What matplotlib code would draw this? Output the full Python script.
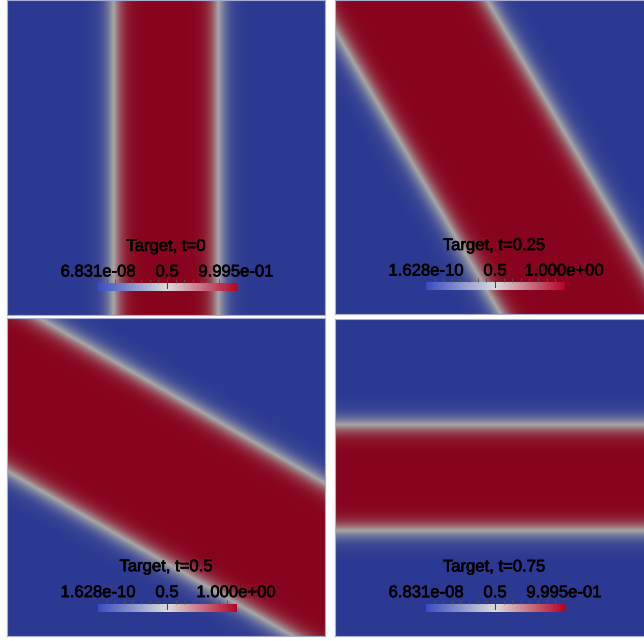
import numpy as np
import matplotlib.pyplot as plt
import matplotlib.patheffects as pe
from matplotlib.colors import LinearSegmentedColormap

plt.rcParams['font.family'] = ['Liberation Sans', 'DejaVu Sans']

# Snapshots of the rotating target band
times = ["0", "0.25", "0.5", "0.75"]
normal_deg = [0, 30, 60, 90]          # direction of the band normal
half_width = [0.165, 0.232, 0.234, 0.167]
edge_eps = [0.036, 0.036, 0.036, 0.036]
range_lo = [6.831e-08, 1.628e-10, 1.628e-10, 6.831e-08]
range_hi = [0.9995, 1.0, 1.0, 0.9995]
lo_labels = ["6.831e-08", "1.628e-10", "1.628e-10", "6.831e-08"]
hi_labels = ["9.995e-01", "1.000e+00", "1.000e+00", "9.995e-01"]

# viewport boxes in pixels: left, top, width, height
W, H = 644, 641
boxes = [(7, 0, 318, 315), (335, 0, 318, 314),
         (7, 318, 318, 318), (335, 319, 318, 317)]

cool_warm = [(0.231, 0.299, 0.754), (0.865, 0.865, 0.865), (0.706, 0.016, 0.150)]
base = LinearSegmentedColormap.from_list("cool_warm", cool_warm)
shade = 0.76  # surface lighting darkens the rendered field
lit = LinearSegmentedColormap.from_list(
    "cool_warm_lit", [tuple(c * shade for c in rgb) for rgb in cool_warm])

heavy = [pe.withStroke(linewidth=0.5, foreground='black')]

fig = plt.figure(figsize=(W / 100, H / 100), dpi=100)

n = 400
u = np.linspace(-0.5, 0.5, n)
U, V = np.meshgrid(u, u)

for i in range(4):
    l, t, w, h = boxes[i]
    ax = fig.add_axes([l / W, 1 - (t + h) / H, w / W, h / H])
    th = np.deg2rad(normal_deg[i])
    d = U * np.cos(th) + V * np.sin(th)
    field = 0.5 * (1 + np.tanh((half_width[i] - np.abs(d)) / edge_eps[i]))
    ax.imshow(field, cmap=lit, vmin=range_lo[i], vmax=range_hi[i],
              origin='lower', extent=(-0.5, 0.5, -0.5, 0.5),
              interpolation='bilinear', aspect='auto')
    ax.set_xticks([])
    ax.set_yticks([])
    for s in ax.spines.values():
        s.set_color('#a9add6')
        s.set_linewidth(0.8)

    ax.text(0.5, 0.218, f"Target, t={times[i]}", transform=ax.transAxes,
            ha='center', va='center', fontsize=12, path_effects=heavy)

    # scalar bar
    cax = ax.inset_axes([0.286, 0.076, 0.434, 0.026])
    lo, hi = range_lo[i], range_hi[i]
    grad = np.linspace(lo, hi, 256)[None, :]
    cax.imshow(grad, cmap=base, vmin=lo, vmax=hi, aspect='auto',
               extent=(lo, hi, 0, 1))
    cax.set_xlim(lo, hi)
    cax.set_ylim(0, 1)
    cax.set_yticks([])
    cax.xaxis.tick_top()
    cax.set_xticks([lo, 0.5, hi], labels=[lo_labels[i], "0.5", hi_labels[i]])
    cax.set_xticks(np.linspace(lo, hi, 17), minor=True)
    cax.tick_params(which='major', length=0, pad=2.5, labelsize=12)
    cax.tick_params(which='minor', length=3, width=0.6, color='#555555')
    for lab in cax.get_xticklabels():
        lab.set_path_effects(heavy)
    cax.axvline(0.5, ymin=0.35, ymax=1.45, clip_on=False, color='#444444', lw=0.8)
    for s in cax.spines.values():
        s.set_visible(False)

fig.savefig("out.png", dpi=100, facecolor='white')
